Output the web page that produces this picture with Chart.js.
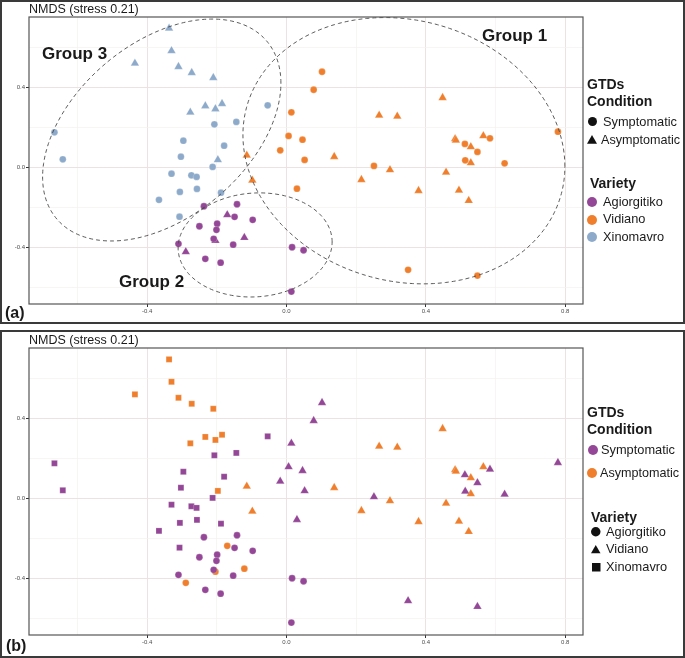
<!DOCTYPE html>
<html>
<head>
<meta charset="utf-8">
<script src="https://cdn.jsdelivr.net/npm/chart.js@4.4.0/dist/chart.umd.min.js"></script>
<style>
  html, body { margin: 0; padding: 0; background: #fff; }
  body { width: 685px; height: 658px; position: relative; overflow: hidden;
         font-family: 'Liberation Sans', Arial, sans-serif; color: #1a1a1a; }
  .panel { position: absolute; left: 0; width: 685px; box-sizing: border-box;
           border: 2px solid #3a3a3a; pointer-events: none; }
  canvas { position: absolute; left: 0; }
  .t { position: absolute; white-space: nowrap; }
  .k { position: absolute; }
</style>
</head>
<body>
<canvas id="chartA" width="685" height="324" style="top:0"></canvas>
<canvas id="chartB" width="685" height="328" style="top:330px"></canvas>
<div class="panel" style="top:0;height:324px"></div>
<div class="panel" style="top:330px;height:328px"></div>

<script>
// NMDS scores, [NMDS1, NMDS2]
const agiorgitikoSymptomatic = [
  [-0.237,-0.195], [-0.142,-0.185], [-0.149,-0.248], [-0.097,-0.263], [-0.250,-0.295],
  [-0.199,-0.282], [-0.201,-0.313], [-0.209,-0.358], [-0.310,-0.383], [-0.153,-0.387],
  [-0.233,-0.458], [-0.189,-0.477], [0.016,-0.400], [0.049,-0.415], [0.014,-0.622]
];
const agiorgitikoAsymptomatic = [
  [-0.170,-0.238], [-0.121,-0.352], [-0.204,-0.367], [-0.289,-0.423]
];
const vidianoSymptomatic = [
  [0.102,0.478], [0.078,0.388], [0.014,0.275], [0.006,0.157], [0.046,0.138],
  [-0.018,0.085], [0.052,0.037], [0.030,-0.107], [0.779,0.178], [0.584,0.145],
  [0.512,0.117], [0.548,0.077], [0.513,0.035], [0.626,0.020], [0.251,0.007],
  [0.349,-0.513], [0.548,-0.542]
];
const vidianoAsymptomatic = [
  [-0.114,0.060], [-0.098,-0.065], [0.137,0.053], [0.448,0.348], [0.266,0.260],
  [0.318,0.255], [0.484,0.142], [0.486,0.135], [0.529,0.102], [0.565,0.157],
  [0.529,0.022], [0.297,-0.013], [0.458,-0.025], [0.215,-0.062], [0.379,-0.117],
  [0.495,-0.115], [0.523,-0.167]
];
const xinomavroSymptomatic = [
  [-0.666,0.175], [-0.642,0.040], [-0.054,0.310], [-0.144,0.227], [-0.207,0.215],
  [-0.296,0.133], [-0.179,0.108], [-0.303,0.053], [-0.212,0.002], [-0.330,-0.032],
  [-0.273,-0.040], [-0.258,-0.048], [-0.306,-0.123], [-0.257,-0.108], [-0.188,-0.127],
  [-0.366,-0.163], [-0.307,-0.247]
];
const xinomavroAsymptomatic = [
  [-0.337,0.695], [-0.330,0.583], [-0.435,0.520], [-0.310,0.503], [-0.272,0.473],
  [-0.210,0.448], [-0.276,0.275], [-0.233,0.307], [-0.204,0.292], [-0.185,0.318],
  [-0.197,0.037]
];

const xTicks = [-0.6, -0.4, -0.2, 0, 0.2, 0.4, 0.6, 0.8];
const xMajor = [-0.4, 0, 0.4, 0.8];
const yTicks = [-0.6, -0.4, -0.2, 0, 0.2, 0.4, 0.6];
const yMajor = [-0.4, 0, 0.4];

const conditions = ['Symptomatic', 'Asymptomatic'];
const varieties = ['Agiorgitiko', 'Vidiano', 'Xinomavro'];
const groupLabels = ['Group 1', 'Group 2', 'Group 3'];
const chartTitle = 'NMDS (stress 0.21)';

// confidence ellipses (centre + two conjugate radii, data units)
const ellipseGroup1 = { cx: 0.337, cy: 0.083, ux: 0.462, uy: -0.079, vx: 0, vy: 0.6615 };
const ellipseGroup2 = { cx: -0.090, cy: -0.3885, ux: 0.221, uy: 0.015, vx: 0, vy: 0.26 };
const ellipseGroup3 = { cx: -0.358, cy: 0.1865, ux: 0.342, uy: 0.235, vx: 0, vy: 0.503 };

const PURPLE = '#944796', ORANGE = '#f07f2d', BLUE = '#8daacb';
const FONT = "'Liberation Sans', Arial, sans-serif";

const toPts = arr => arr.map(p => ({ x: p[0], y: p[1] }));
const isIn = (list, v) => list.some(m => Math.abs(m - v) < 1e-9);
const radius = { circle: 3.4, triangle: 4.9, rect: 4.2 };

function ds(label, arr, color, shape) {
  return {
    label, data: toPts(arr),
    pointStyle: shape, pointRadius: radius[shape], pointHoverRadius: radius[shape],
    backgroundColor: color, borderColor: 'rgba(255,255,255,0.5)', borderWidth: 0.4
  };
}

function axis(pos, min, max, ticks, major, size) {
  return {
    type: 'linear', position: pos, min, max,
    afterBuildTicks: s => { s.ticks = ticks.map(v => ({ value: v })); },
    afterFit: s => { if (pos === 'left') s.width = size; else s.height = size; },
    border: { display: false },
    grid: {
      color: c => isIn(major, c.tick.value) ? '#ebe3e3' : '#f5f0f0',
      lineWidth: c => isIn(major, c.tick.value) ? 1 : 0.7,
      tickColor: c => isIn(major, c.tick.value) ? '#333' : 'rgba(0,0,0,0)',
      tickLength: 3
    },
    ticks: {
      autoSkip: false, maxRotation: 0, padding: 1,
      color: '#4d4d4d', font: { size: 6, family: FONT },
      callback: v => isIn(major, v) ? v.toFixed(1) : ''
    }
  };
}

const framePlugin = {
  id: 'frame',
  afterDraw(chart) {
    const { ctx, chartArea: a } = chart;
    ctx.save();
    ctx.strokeStyle = '#555';
    ctx.lineWidth = 1.2;
    ctx.strokeRect(a.left, a.top, a.right - a.left, a.bottom - a.top);
    ctx.restore();
  }
};

const ellipsePlugin = {
  id: 'ellipses',
  afterDatasetsDraw(chart, args, opts) {
    const list = opts.list || [];
    const { ctx } = chart;
    const sx = chart.scales.x, sy = chart.scales.y;
    ctx.save();
    ctx.strokeStyle = '#4a4a4a';
    ctx.lineWidth = 0.9;
    ctx.setLineDash([4, 3]);
    list.forEach(e => {
      ctx.beginPath();
      for (let i = 0; i <= 240; i++) {
        const t = i / 240 * Math.PI * 2;
        const px = sx.getPixelForValue(e.cx + e.ux * Math.cos(t) + e.vx * Math.sin(t));
        const py = sy.getPixelForValue(e.cy + e.uy * Math.cos(t) + e.vy * Math.sin(t));
        if (i === 0) ctx.moveTo(px, py); else ctx.lineTo(px, py);
      }
      ctx.stroke();
    });
    ctx.restore();
  }
};

function makeChart(id, datasets, ellipses, topPad, bottomSize) {
  return new Chart(document.getElementById(id), {
    type: 'scatter',
    data: { datasets },
    options: {
      responsive: false, animation: false, devicePixelRatio: 1,
      layout: { padding: { top: topPad, right: 102, left: 0, bottom: 0 } },
      scales: {
        x: axis('bottom', -0.739, 0.851, xTicks, xMajor, bottomSize),
        y: axis('left', -0.684, 0.752, yTicks, yMajor, 29)
      },
      plugins: {
        legend: { display: false }, tooltip: { enabled: false },
        ellipses: { list: ellipses }
      }
    },
    plugins: [ellipsePlugin, framePlugin]
  });
}

// (a) colour = variety, shape = condition
makeChart('chartA', [
  ds('Agiorgitiko Symptomatic', agiorgitikoSymptomatic, PURPLE, 'circle'),
  ds('Agiorgitiko Asymptomatic', agiorgitikoAsymptomatic, PURPLE, 'triangle'),
  ds('Vidiano Symptomatic', vidianoSymptomatic, ORANGE, 'circle'),
  ds('Vidiano Asymptomatic', vidianoAsymptomatic, ORANGE, 'triangle'),
  ds('Xinomavro Symptomatic', xinomavroSymptomatic, BLUE, 'circle'),
  ds('Xinomavro Asymptomatic', xinomavroAsymptomatic, BLUE, 'triangle')
], [ellipseGroup1, ellipseGroup2, ellipseGroup3], 17, 20);

// (b) colour = condition, shape = variety
makeChart('chartB', [
  ds('Agiorgitiko Symptomatic', agiorgitikoSymptomatic, PURPLE, 'circle'),
  ds('Agiorgitiko Asymptomatic', agiorgitikoAsymptomatic, ORANGE, 'circle'),
  ds('Vidiano Symptomatic', vidianoSymptomatic, PURPLE, 'triangle'),
  ds('Vidiano Asymptomatic', vidianoAsymptomatic, ORANGE, 'triangle'),
  ds('Xinomavro Symptomatic', xinomavroSymptomatic, PURPLE, 'rect'),
  ds('Xinomavro Asymptomatic', xinomavroAsymptomatic, ORANGE, 'rect')
], [], 18, 23);

// text and legend overlay
function txt(s, left, cy, size, bold) {
  const d = document.createElement('div');
  d.className = 't';
  d.textContent = s;
  d.style.left = left + 'px';
  d.style.top = (cy - size / 2) + 'px';
  d.style.fontSize = size + 'px';
  d.style.lineHeight = size + 'px';
  if (bold) d.style.fontWeight = 'bold';
  document.body.appendChild(d);
}
function key(shape, color, cx, cy, s) {
  const ns = 'http://www.w3.org/2000/svg';
  const svg = document.createElementNS(ns, 'svg');
  svg.setAttribute('width', s + 2); svg.setAttribute('height', s + 2);
  svg.setAttribute('class', 'k');
  svg.style.left = (cx - s / 2 - 1) + 'px';
  svg.style.top = (cy - s / 2 - 1) + 'px';
  let el;
  const c = s / 2 + 1;
  if (shape === 'circle') {
    el = document.createElementNS(ns, 'circle');
    el.setAttribute('cx', c); el.setAttribute('cy', c); el.setAttribute('r', s / 2);
  } else if (shape === 'triangle') {
    el = document.createElementNS(ns, 'polygon');
    el.setAttribute('points', `${c},1 ${s + 1},${s * 0.87 + 1} 1,${s * 0.87 + 1}`);
  } else {
    el = document.createElementNS(ns, 'rect');
    el.setAttribute('x', 1); el.setAttribute('y', 1);
    el.setAttribute('width', s); el.setAttribute('height', s);
  }
  el.setAttribute('fill', color);
  svg.appendChild(el);
  document.body.appendChild(svg);
}

// panel (a)
txt(chartTitle, 29, 9.5, 12.5, false);
txt('(a)', 5, 313, 16, true);
txt(groupLabels[2], 42, 53.5, 17, true);
txt(groupLabels[0], 482, 35.5, 17, true);
txt(groupLabels[1], 119, 281, 17, true);
txt('GTDs', 587, 83.5, 14, true);
txt('Condition', 587, 100.5, 14, true);
key('circle', '#111', 592, 121.5, 9);
txt(conditions[0], 603, 122, 12.8, false);
key('triangle', '#111', 592, 139.5, 10);
txt(conditions[1], 601, 140, 12.6, false);
txt('Variety', 590, 183, 14, true);
[PURPLE, ORANGE, BLUE].forEach((col, i) => {
  key('circle', col, 592, 202 + i * 17.5, 10);
  txt(varieties[i], 603, 202 + i * 17.5, 12.8, false);
});

// panel (b)
txt(chartTitle, 29, 340.5, 12.5, false);
txt('(b)', 6, 645.5, 16, true);
txt('GTDs', 587, 412, 14, true);
txt('Condition', 587, 428.5, 14, true);
key('circle', PURPLE, 593, 450, 10);
txt(conditions[0], 601, 450, 12.8, false);
key('circle', ORANGE, 592, 473, 10);
txt(conditions[1], 600, 473, 12.6, false);
txt('Variety', 591, 517, 14, true);
['circle', 'triangle', 'rect'].forEach((shape, i) => {
  key(shape, '#111', 596, 532 + i * 17.5, shape === 'rect' ? 8.5 : 9.5);
  txt(varieties[i], 606, 532 + i * 17.5, 12.8, false);
});
</script>
</body>
</html>
